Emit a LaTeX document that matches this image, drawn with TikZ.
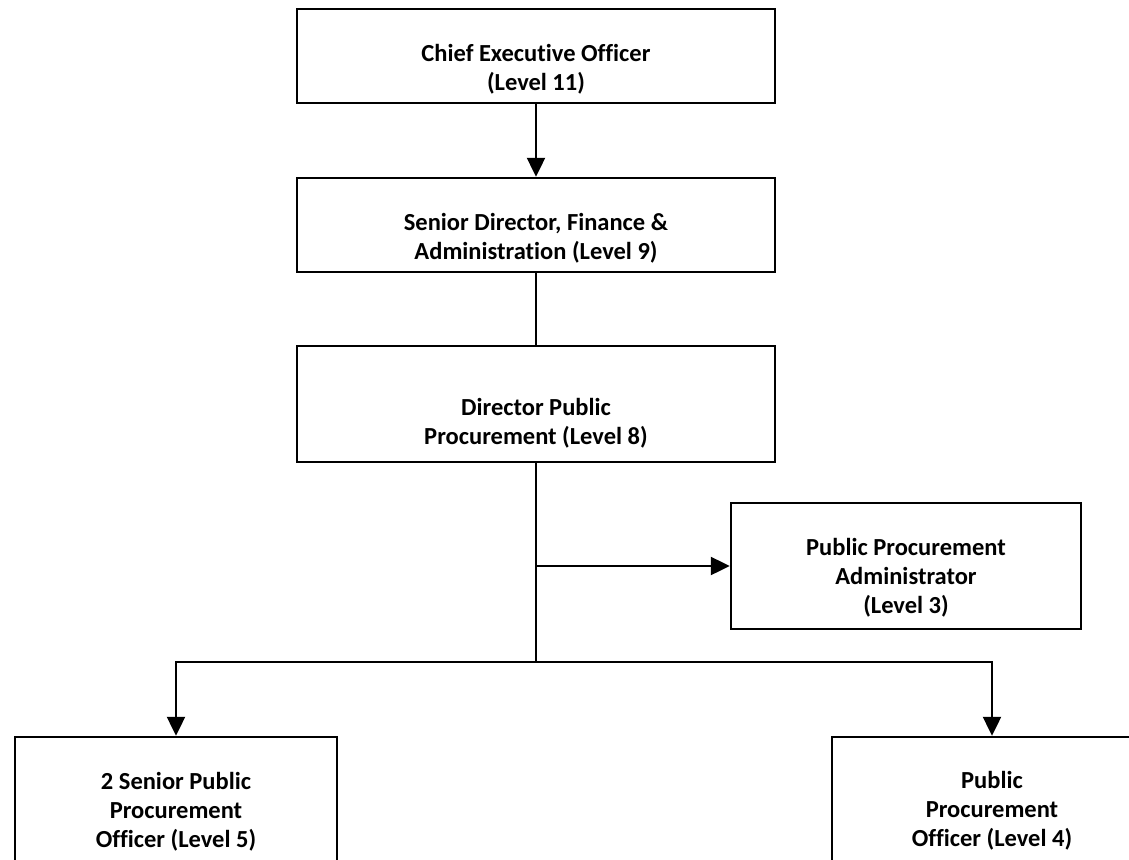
\documentclass[tikz,border=0pt]{standalone}
\usepackage{fontspec}
\setmainfont[Ligatures={NoCommon}]{Carlito}
\usetikzlibrary{arrows.meta}
\begin{document}
\begin{tikzpicture}[x=1pt,y=-1pt,
  box/.style={draw=black,line width=2.4pt,fill=white,inner sep=0pt},
  txt/.style={align=center,font=\fontsize{24.5}{29}\selectfont\bfseries,inner sep=0pt},
  conn/.style={draw=black,line width=2.2pt},
  arr/.style={conn,-{Triangle[length=19pt,width=18pt]}}]
\useasboundingbox (0,0) rectangle (1129,859);
\clip (0,0) rectangle (1129,859);
% boxes
\node[box,minimum width=478pt,minimum height=94pt] (ceo) at (536,56) {};
\node[box,minimum width=478pt,minimum height=94pt] (sen) at (536,225) {};
\node[box,minimum width=478pt,minimum height=116pt] (dir) at (536,404) {};
\node[box,minimum width=350pt,minimum height=126pt] (ppa) at (906,566) {};
\node[box,minimum width=322pt,minimum height=200pt] (spo) at (176,837) {};
\node[box,minimum width=320pt,minimum height=200pt] (po) at (992,837) {};
% texts
\node[txt] (ceoT) at (536,69) {Chief Executive Officer\\(Level 11)};
\node[txt] (senT) at (536,238) {Senior Director, Finance \&\\Administration (Level 9)};
\node[txt] (dirT) at (536,423) {Director Public\\Procurement (Level 8)};
\node[txt] (ppaT) at (906,578) {Public Procurement\\Administrator\\(Level 3)};
\node[txt] (spoT) at (176,812) {2 Senior Public\\Procurement\\Officer (Level 5)};
\node[txt] (poT) at (992,811) {Public\\Procurement\\Officer (Level 4)};
% junctions
\coordinate (j1) at (536,566);
\coordinate (j2) at (536,662);
% connectors
\draw[arr] (ceo.south) -- (sen.north);
\draw[conn] (sen.south) -- (dir.north);
\draw[conn] (dir.south) -- (j2);
\draw[arr] (j1) -- (ppa.west);
\draw[arr] (j2) -| (spo.north);
\draw[arr] (j2) -| (po.north);
\end{tikzpicture}
\end{document}
